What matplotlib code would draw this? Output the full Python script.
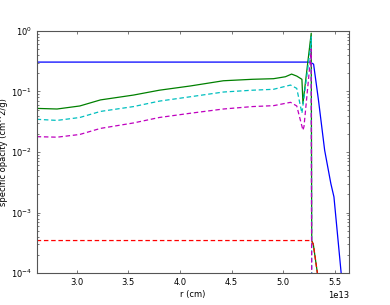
import matplotlib
matplotlib.use("Agg")
import matplotlib.pyplot as plt
import numpy as np

# radius in units of 1e13 cm
r_green = [2.6125, 2.81, 3.03, 3.23, 3.55, 3.8, 4.1, 4.42, 4.7, 4.905, 5.02, 5.08, 5.13,
           5.18, 5.19, 5.27, 5.275, 5.29, 5.33, 5.36]
logk_green = [-1.28, -1.29, -1.24, -1.14, -1.06, -0.98, -0.91, -0.824, -0.80, -0.79,
              -0.758, -0.714, -0.747, -0.80, -1.20, -0.04, -3.46, -3.52, -4.0, -4.5]

r_cyan = [2.6125, 2.81, 3.03, 3.23, 3.55, 3.8, 4.1, 4.42, 4.7, 4.905, 5.07, 5.13,
          5.18, 5.26, 5.27, 5.275, 5.30]
logk_cyan = [-1.46, -1.478, -1.43, -1.33, -1.25, -1.16, -1.088, -1.01, -0.98, -0.965,
             -0.895, -0.95, -1.36, -0.318, -0.1, -4.5, -5.0]

r_magenta = [2.6125, 2.81, 3.03, 3.23, 3.55, 3.8, 4.1, 4.42, 4.7, 4.905, 5.07, 5.13,
             5.19, 5.20, 5.26, 5.27, 5.275, 5.30]
logk_magenta = [-1.746, -1.755, -1.71, -1.61, -1.52, -1.43, -1.36, -1.29, -1.25, -1.235,
                -1.18, -1.24, -1.64, -1.58, -0.51, -0.3, -4.5, -5.0]

r_red = [2.6125, 5.27, 5.29, 5.33, 5.36]
logk_red = [-3.46, -3.46, -3.52, -4.0, -4.5]

r_blue = [2.6125, 5.26, 5.293, 5.34, 5.40, 5.46, 5.49, 5.56, 5.64]
logk_blue = [-0.516, -0.516, -0.55, -1.14, -1.97, -2.52, -2.74, -4.0, -5.0]

xlim = (2.6125e13, 5.64e13)
ylim = (1e-4, 1.0)

plt.rcParams['font.size'] = 6
fig = plt.figure(figsize=(3.9, 3.05), dpi=100)
ax = fig.add_axes([0.094, 0.104, 0.802, 0.795])

def arr(r, lk):
    return np.array(r) * 1e13, 10 ** np.array(lk)

dash = (3.6, 2.2)
x, y = arr(r_blue, logk_blue)
ax.plot(x, y, color=(0, 0, 1), lw=0.9)
x, y = arr(r_green, logk_green)
ax.plot(x, y, color=(0, 0.5, 0), lw=0.9)
x, y = arr(r_cyan, logk_cyan)
ax.plot(x, y, color=(0, 0.75, 0.75), lw=0.9, dashes=dash)
x, y = arr(r_magenta, logk_magenta)
ax.plot(x, y, color=(0.75, 0, 0.75), lw=0.9, dashes=dash)
x, y = arr(r_red, logk_red)
ax.plot(x, y, color=(1, 0, 0), lw=0.9, dashes=dash)

ax.set_yscale('log')
ax.set_xlim(*xlim)
ax.set_ylim(*ylim)
ax.set_xticks([3.0e13, 3.5e13, 4.0e13, 4.5e13, 5.0e13, 5.5e13])
ax.tick_params(which='both', direction='in', top=True, right=True, labelsize=6,
               width=0.5, color='#444444')
ax.tick_params(which='major', length=2.5)
ax.tick_params(which='minor', length=1.3)
for s in ax.spines.values():
    s.set_linewidth(0.8)
    s.set_color('#555555')
ax.xaxis.get_offset_text().set_fontsize(6)
ax.set_xlabel('r (cm)', fontsize=6, labelpad=2)
ax.set_ylabel('specific opacity (cm^2/g)', fontsize=6, labelpad=2)

fig.savefig('out.png', dpi=100)
